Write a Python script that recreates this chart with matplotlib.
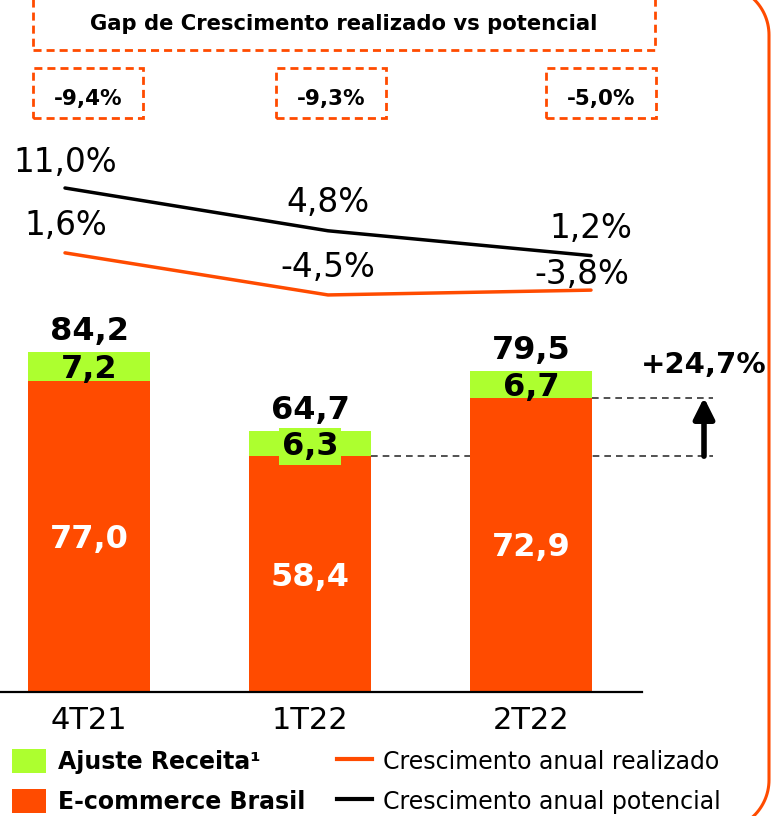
import numpy as np
import matplotlib.pyplot as plt
from matplotlib.patches import Rectangle, Patch
from matplotlib.lines import Line2D

# data
categories = ['4T21', '1T22', '2T22']
ecommerce = [77.0, 58.4, 72.9]
ajuste = [7.2, 6.3, 6.7]
totals = [84.2, 64.7, 79.5]
cresc_realizado = [1.6, -4.5, -3.8]
cresc_potencial = [11.0, 4.8, 1.2]
variacao = 24.7

ORANGE = '#FF4B00'
GREEN = '#ADFF2F'

W, H = 771, 816
fig = plt.figure(figsize=(W / 100, H / 100), dpi=100)


def fx(px):
    return px / W


def fy(py):
    return 1 - py / H


def fmt(v):
    return f'{v:.1f}'.replace('.', ',')


# --- bars ---
ax = fig.add_axes([0, fy(692), 1, 692 / H])
ax.set_facecolor('none')
ax.set_xlim(-89 / 221, (W - 89) / 221)
ax.set_ylim(0, 692 / 4.038)
x = np.arange(len(categories))
bw = 0.553
ax.bar(x, ecommerce, width=bw, color=ORANGE, zorder=2)
ax.bar(x, ajuste, bottom=ecommerce, width=bw, color=GREEN, zorder=2)

for i in range(len(categories)):
    ax.annotate(fmt(totals[i]), (x[i], totals[i]), xytext=(0, 12), textcoords='offset pixels',
                ha='center', va='baseline', fontsize=23, fontweight='bold', zorder=5)
    mid_g = ecommerce[i] + ajuste[i] / 2
    box = dict(boxstyle='square,pad=0.08', fc=GREEN, ec='none') if i == 1 else None
    ax.annotate(fmt(ajuste[i]), (x[i], mid_g), xytext=(0, -11.5), textcoords='offset pixels',
                ha='center', va='baseline', fontsize=23, fontweight='bold', bbox=box, zorder=5)
    ax.annotate(fmt(ecommerce[i]), (x[i], ecommerce[i] / 2), xytext=(0, -11.5), textcoords='offset pixels',
                ha='center', va='baseline', fontsize=23, fontweight='bold', color='white', zorder=5)

ax.axhline(0, xmin=0, xmax=642 / W, color='black', lw=1.6, clip_on=False, zorder=3)
ax.set_xticks(x, categories, fontsize=22)
ax.set_yticks([])
ax.tick_params(length=0, pad=10)
for s in ax.spines.values():
    s.set_visible(False)

# variation annotation between 1T22 and 2T22
xa = (704 - 89) / 221
xend = (713 - 89) / 221
ax.plot([x[1] + bw / 2, xend], [ecommerce[1]] * 2, ls=(0, (4, 3)), lw=1.2, color='#333333', zorder=1)
ax.plot([x[2] + bw / 2, xend], [ecommerce[2]] * 2, ls=(0, (4, 3)), lw=1.2, color='#333333', zorder=1)
ax.annotate('', xy=(xa, ecommerce[2]), xytext=(xa, ecommerce[1]),
            arrowprops=dict(arrowstyle='-|>,head_length=0.5,head_width=0.25', lw=4, color='black',
                            mutation_scale=25, shrinkA=0, shrinkB=0))
ax.annotate('+' + fmt(variacao) + '%', (xa, ecommerce[2]), xytext=(0, 25), textcoords='offset pixels',
            ha='center', va='baseline', fontsize=21, fontweight='bold', annotation_clip=False)

# --- growth lines ---
lax = fig.add_axes([0, 0, 1, 1])
lax.set_facecolor('none')
lax.set_xlim(-65 / 263, (W - 65) / 263)
lax.set_ylim((263.9 - H) / 6.9, 263.9 / 6.9)
lax.axis('off')
lx = np.arange(len(categories))
lax.plot(lx, cresc_potencial, color='black', lw=2.5, solid_capstyle='round')
lax.plot(lx, cresc_realizado, color=ORANGE, lw=2.5, solid_capstyle='round')

off_pot = [(0, 16), (0, 19), (0, 18)]
off_real = [(1, 18), (0, 18), (-9, 6)]
for i in range(len(categories)):
    lax.annotate(fmt(cresc_potencial[i]) + '%', (lx[i], cresc_potencial[i]), xytext=off_pot[i],
                 textcoords='offset pixels', ha='center', va='baseline', fontsize=23.5)
    lax.annotate(fmt(cresc_realizado[i]) + '%', (lx[i], cresc_realizado[i]), xytext=off_real[i],
                 textcoords='offset pixels', ha='center', va='baseline', fontsize=23.5)

# --- gap boxes ---
dash = (0, (2.9, 1.8))
fig.add_artist(Rectangle((0.33, 7.66), 6.22, 0.7, transform=fig.dpi_scale_trans, fill=False,
                         ec=ORANGE, lw=2, ls=dash))
fig.text(fx(344), fy(24), 'Gap de Crescimento realizado vs potencial', ha='center', va='center',
         fontsize=15.2, fontweight='bold')
gap_left = [0.33, 2.76, 5.46]
for i in range(len(categories)):
    gap = cresc_realizado[i] - cresc_potencial[i]
    fig.add_artist(Rectangle((gap_left[i], 6.98), 1.10, 0.5, transform=fig.dpi_scale_trans,
                             fill=False, ec=ORANGE, lw=2, ls=dash))
    fig.text((gap_left[i] + 0.55) * 100 / W, fy(105), fmt(gap) + '%', ha='center', va='baseline',
             fontsize=15.5, fontweight='bold')

# --- legend ---
handles = [Patch(fc=GREEN, ec='none'), Patch(fc=ORANGE, ec='none'),
           Line2D([], [], color=ORANGE, lw=3), Line2D([], [], color='black', lw=3)]
labels = ['Ajuste Receita¹', 'E-commerce Brasil', 'Crescimento anual realizado', 'Crescimento anual potencial']
leg = lax.legend(handles, labels, ncol=2, loc='upper left', bbox_to_anchor=(fx(12), fy(749)),
                 frameon=False, fontsize=17, handlelength=1.45, handleheight=1.2, handletextpad=0.5,
                 columnspacing=1.35, labelspacing=0.62, borderpad=0, borderaxespad=0)
for t in leg.get_texts()[:2]:
    t.set_fontweight('bold')

# right rounded frame (only the right side is visible)
r = 0.5
top_a = np.linspace(0, np.pi / 2, 30)
bot_a = np.linspace(-np.pi / 2, 0, 30)
fx_pts = np.concatenate([7.19 + r * np.cos(top_a[::-1]), 7.19 + r * np.cos(bot_a[::-1])])
fy_pts = np.concatenate([7.81 + r * np.sin(top_a[::-1]), 0.36 + r * np.sin(bot_a[::-1])])
fig.add_artist(Line2D(fx_pts, fy_pts, transform=fig.dpi_scale_trans, color=ORANGE, lw=2.2))

fig.savefig('out.png', dpi=100)
